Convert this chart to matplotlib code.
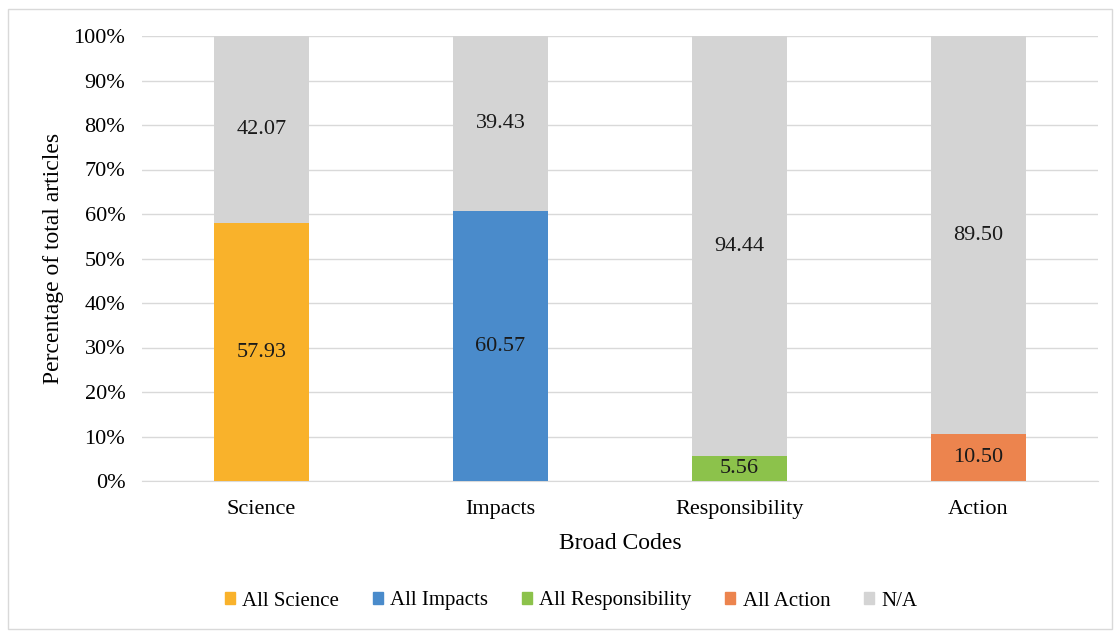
import matplotlib.pyplot as plt
from matplotlib.patches import Rectangle

categories = ["Science", "Impacts", "Responsibility", "Action"]
coded = [57.93, 60.57, 5.56, 10.50]
not_coded = [42.07, 39.43, 94.44, 89.50]
series_names = ["All Science", "All Impacts", "All Responsibility", "All Action", "N/A"]
colors = ["#F9B22B", "#4A8BCB", "#8CC24B", "#EC844E", "#D4D4D4"]
yticks = [0, 10, 20, 30, 40, 50, 60, 70, 80, 90, 100]

plt.rcParams["font.family"] = ["Liberation Serif", "DejaVu Serif"]

fig = plt.figure(figsize=(11.2, 6.35), dpi=100)
ax = fig.add_axes([142 / 1120, 1 - 481 / 635, (1098 - 142) / 1120, (481 - 36) / 635])

x = list(range(len(categories)))
w = 0.395
for i in x:
    ax.bar(i, coded[i], width=w, color=colors[i], zorder=3)
    ax.bar(i, not_coded[i], width=w, bottom=coded[i], color=colors[4], zorder=3)
    ax.text(i, coded[i] / 2, f"{coded[i]:.2f}",
            ha="center", va="center", fontsize=16, color="#1a1a1a", zorder=4)
    ax.text(i, coded[i] + not_coded[i] / 2, f"{not_coded[i]:.2f}",
            ha="center", va="center", fontsize=16, color="#1a1a1a", zorder=4)

ax.set_xlim(-0.5, 3.5)
ax.set_ylim(0, 100)
ax.set_yticks(yticks)
ax.set_yticklabels([f"{t}%" for t in yticks], fontsize=16)
ax.set_xticks(x)
ax.set_xticklabels(categories, fontsize=16)
ax.tick_params(axis="y", length=0, pad=12)
ax.tick_params(axis="x", length=0, pad=14)
ax.yaxis.grid(True, color="#D9D9D9", linewidth=1, zorder=0)
for s in ["top", "right", "left"]:
    ax.spines[s].set_visible(False)
ax.spines["bottom"].set_color("#D9D9D9")
ax.set_xlabel("Broad Codes", fontsize=17, labelpad=10)
ax.set_ylabel("Percentage of total articles", fontsize=17, labelpad=7)

handles = [Rectangle((0, 0), 1, 1, color=c) for c in colors]
fig.legend(handles, series_names, loc="center", bbox_to_anchor=(571 / 1120, 1 - 601 / 635),
           ncol=5, frameon=False, fontsize=15, handlelength=0.5, handleheight=0.5,
           handletextpad=0.35, columnspacing=1.6)

fig.add_artist(Rectangle((8 / 1120, 6 / 635), 1104 / 1120, 620 / 635, transform=fig.transFigure,
                         fill=False, edgecolor="#D9D9D9", linewidth=1))

fig.savefig("out.png", dpi=100)
